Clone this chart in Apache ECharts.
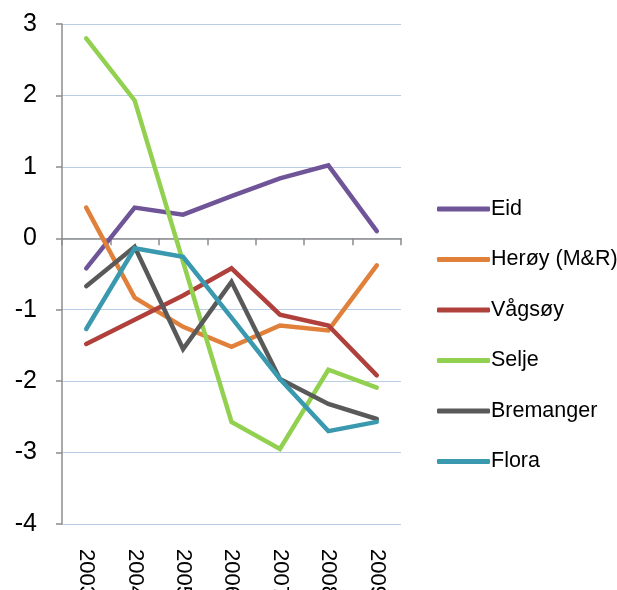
<!DOCTYPE html>
<html>
<head>
<meta charset="utf-8">
<script src="https://cdn.jsdelivr.net/npm/echarts@6/dist/echarts.min.js"></script>
<style>
  html, body { margin: 0; padding: 0; background: #fff; }
  #chart { width: 617px; height: 590px; }
</style>
</head>
<body>
<div id="chart"></div>
<script>
var years = ['2003', '2004', '2005', '2006', '2007', '2008', '2009'];

var eid       = [-0.42, 0.43, 0.33, 0.59, 0.84, 1.02, 0.10];
var heroy     = [0.43, -0.83, -1.24, -1.52, -1.22, -1.29, -0.38];
var vagsoy    = [-1.48, -1.14, -0.80, -0.42, -1.07, -1.22, -1.92];
var selje     = [2.80, 1.93, -0.33, -2.57, -2.95, -1.84, -2.09];
var bremanger = [-0.67, -0.12, -1.55, -0.61, -1.97, -2.32, -2.53];
var flora     = [-1.27, -0.14, -0.26, -1.11, -1.97, -2.70, -2.57];

var names  = ['Eid', 'Herøy (M&R)', 'Vågsøy', 'Selje', 'Bremanger', 'Flora'];
var values = [eid, heroy, vagsoy, selje, bremanger, flora];
var colors = ['#6F5597', '#E0803A', '#B0403C', '#92D050', '#595959', '#3A98AF'];

var chart = echarts.init(document.getElementById('chart'));

var series = [];
for (var i = 0; i < names.length; i++) {
  series.push({
    name: names[i],
    type: 'line',
    data: values[i],
    symbol: 'none',
    lineStyle: { width: 4.5, color: colors[i], cap: 'round', join: 'miter' },
    itemStyle: { color: colors[i] }
  });
}

var option = {
  animation: false,
  grid: { left: 62, right: 216, top: 24, bottom: 66, containLabel: false, outerBoundsMode: 'none' },
  legend: {
    orient: 'vertical',
    left: 432,
    top: 193,
    icon: 'roundRect',
    itemWidth: 53,
    itemHeight: 5,
    itemGap: 28.5,
    textStyle: { fontFamily: 'Liberation Sans', fontSize: 21.5, color: '#000', padding: [0, 0, 0, -4] },
    data: names
  },
  xAxis: [
    {
      type: 'category',
      data: years,
      position: 'bottom',
      axisLine: { show: false, onZero: false },
      axisTick: { show: false },
      axisLabel: {
        rotate: -90,
        margin: 25,
        fontFamily: 'Liberation Sans',
        fontSize: 22,
        color: '#000'
      }
    },
    {
      type: 'category',
      data: years,
      position: 'bottom',
      axisLine: { show: true, onZero: true, lineStyle: { color: '#8C8C8C', width: 1.5 } },
      axisTick: { show: true, inside: false, length: 7, lineStyle: { color: '#8C8C8C', width: 1.5 } },
      axisLabel: { show: false }
    }
  ],
  yAxis: {
    type: 'value',
    min: -4,
    max: 3,
    interval: 1,
    axisLine: { show: true, lineStyle: { color: '#8C8C8C', width: 1.5 } },
    axisTick: { show: true, length: 6, lineStyle: { color: '#8C8C8C', width: 1.5 } },
    splitLine: { lineStyle: { color: '#B9CDE5', width: 1.2 } },
    axisLabel: {
      margin: 25,
      fontFamily: 'Liberation Sans',
      fontSize: 25,
      color: '#000'
    }
  },
  series: series
};

chart.setOption(option);
</script>
</body>
</html>
